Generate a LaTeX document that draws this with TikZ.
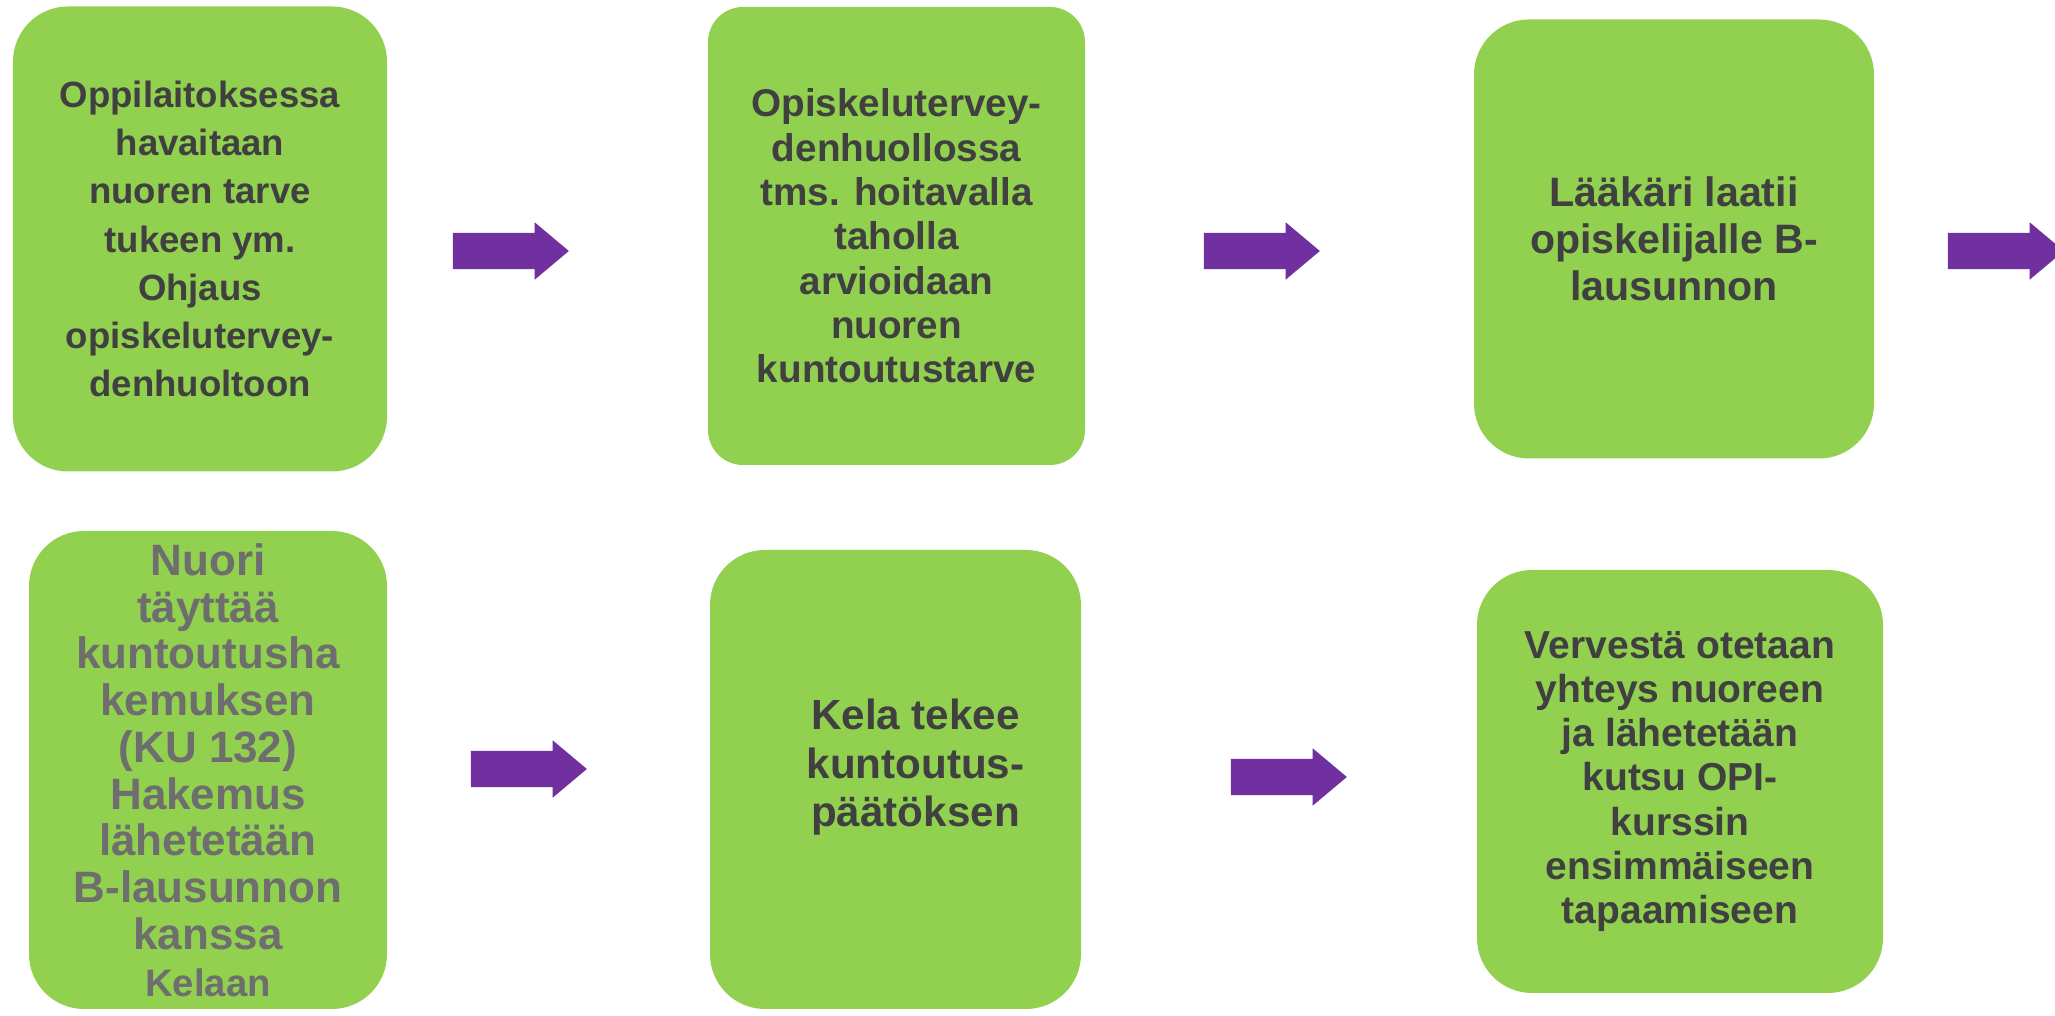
\documentclass[tikz,border=0pt]{standalone}
\usepackage{fontspec}
\setmainfont{Liberation Sans}
\usetikzlibrary{shapes.arrows}
\definecolor{vihrea}{HTML}{92D050}
\definecolor{violetti}{HTML}{7030A0}
\definecolor{tummateksti}{HTML}{404040}
\definecolor{harmaateksti}{HTML}{6E6E6E}

\begin{document}
\begin{tikzpicture}[
  vaihe/.style={rectangle, rounded corners=0.55cm, fill=vihrea, align=center, text=tummateksti, inner sep=0pt},
  nuoli/.style={single arrow, fill=violetti, minimum height=1.16cm, minimum width=0.56cm,
    single arrow head extend=0.105cm, single arrow tip angle=80, inner xsep=0pt, inner ysep=0.175cm}
]
\useasboundingbox (0,0) rectangle (20.55,10.16);
\clip (0,0) rectangle (20.55,10.16);

% Ylärivi
\node[vaihe, minimum width=3.74cm, minimum height=4.65cm, font=\bfseries\fontsize{10.4}{13.7}\selectfont] (oppilaitos) at (2.00, 7.77)
  {Oppilaitoksessa\\havaitaan\\nuoren tarve\\tukeen ym.\\Ohjaus\\opiskelutervey-\\denhuoltoon};
\node[vaihe, rounded corners=0.35cm, minimum width=3.77cm, minimum height=4.58cm, font=\bfseries\fontsize{11}{12.6}\selectfont] (arviointi) at (8.965, 7.80)
  {Opiskelutervey-\\denhuollossa\\tms. hoitavalla\\taholla\\arvioidaan\\nuoren\\kuntoutustarve};
\node[vaihe, minimum width=4.00cm, minimum height=4.39cm, font=\bfseries\fontsize{11.7}{13.3}\selectfont] (laakari) at (16.74, 7.77)
  {Lääkäri laatii\\opiskelijalle B-\\lausunnon};

% Alarivi
\node[vaihe, minimum width=3.58cm, minimum height=4.78cm, text=harmaateksti, font=\bfseries\fontsize{12.5}{13.3}\selectfont] (hakemus) at (2.08, 2.46)
  {Nuori\\täyttää\\kuntoutusha\\kemuksen\\(KU 132)\\Hakemus\\lähetetään\\B-lausunnon\\kanssa\\{\fontsize{10.9}{13.3}\selectfont Kelaan}};
\node[vaihe, minimum width=3.71cm, minimum height=4.59cm, font=\bfseries\fontsize{12}{13.8}\selectfont] (kela) at (8.955, 2.365)
  {\hspace*{0.4cm}Kela tekee\\\hspace*{0.4cm}kuntoutus-\\\hspace*{0.4cm}päätöksen\\[-0.15cm]};
\node[vaihe, minimum width=4.06cm, minimum height=4.23cm, font=\bfseries\fontsize{11.1}{12.6}\selectfont] (verve) at (16.80, 2.345)
  {Vervestä otetaan\\yhteys nuoreen\\ja lähetetään\\kutsu OPI-\\kurssin\\ensimmäiseen\\tapaamiseen};

% Nuolet
\node[nuoli] (nuoli1) at (5.00, 7.65) {};
\node[nuoli] (nuoli2) at (12.51, 7.65) {};
\node[nuoli] (nuoli3) at (19.95, 7.65) {};
\node[nuoli] (nuoli4) at (5.18, 2.47) {};
\node[nuoli] (nuoli5) at (12.78, 2.39) {};

\end{tikzpicture}
\end{document}
